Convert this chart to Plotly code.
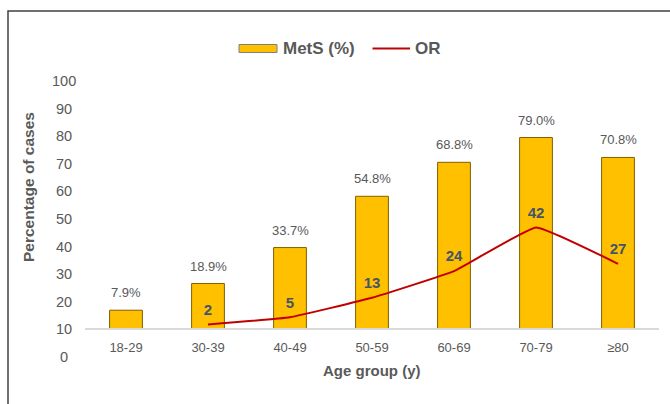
import plotly.graph_objects as go

# Age groups and results
age_groups = ["18-29", "30-39", "40-49", "50-59", "60-69", "70-79", "≥80"]
mets_pct = [7.9, 18.9, 33.7, 54.8, 68.8, 79.0, 70.8]
or_groups = ["30-39", "40-49", "50-59", "60-69", "70-79", "≥80"]
or_values = [2, 5, 13, 24, 42, 27]

# Left-axis tick labels (axis crosses at 10, each step of 10 spans 8.8 data units)
ytick_labels = [0, 10, 20, 30, 40, 50, 60, 70, 80, 90, 100]
AXIS_CROSS = 10
SCALE = 0.88

def to_data(v):
    return (v - AXIS_CROSS) / SCALE

W, H = 670, 404
L, R, T, B = 85, 11, 81, 47
pw, ph = W - L - R, H - T - B

def px_x(x):
    return (x - L) / pw

def px_y(y):
    return 1 - (y - T) / ph

GRAY = "#595959"
FONT = "Liberation Sans, Arial, sans-serif"

fig = go.Figure()

fig.add_trace(go.Bar(
    x=age_groups, y=mets_pct, width=0.4,
    marker=dict(color="#FFC000", line=dict(color="#7F6000", width=1)),
    name="MetS (%)",
))

fig.add_trace(go.Scatter(
    x=or_groups, y=or_values, mode="lines+markers+text",
    line=dict(color="#C00000", width=2, shape="spline", smoothing=0.3),
    marker=dict(size=8, opacity=0),
    text=[f"<b>{v}</b>" for v in or_values], textposition="top center",
    textfont=dict(size=15, color="#44546A", family=FONT),
    cliponaxis=False, name="OR",
))

# Percentage labels above the bars
for cat, v in zip(age_groups, mets_pct):
    fig.add_annotation(x=cat, y=v, xref="x", yref="y", text=f"{v:.1f}%",
                       yanchor="bottom", yshift=8, showarrow=False,
                       font=dict(size=13, color=GRAY))

y_lo, y_hi = to_data(0), to_data(100)

fig.update_layout(
    width=W, height=H,
    margin=dict(l=L, r=R, t=T, b=B),
    paper_bgcolor="white", plot_bgcolor="white",
    showlegend=False,
    font=dict(family=FONT, color=GRAY, size=13),
    xaxis=dict(
        type="category", range=[-0.5, 6.5],
        anchor="free", position=(0 - y_lo) / (y_hi - y_lo),
        showline=True, linecolor="#D9D9D9", linewidth=1.5,
        showgrid=False, ticks="", ticklabelstandoff=6,
        tickfont=dict(size=13, color=GRAY),
    ),
    yaxis=dict(
        range=[y_lo, y_hi], showgrid=False, zeroline=False, showline=False,
        showticklabels=False, ticks="",
    ),
)

# Left-axis labels, centred in a column beside the plot
for v in ytick_labels:
    fig.add_annotation(x=px_x(63.5), y=to_data(v), xref="paper", yref="y",
                       text=str(v), xanchor="center", yanchor="middle",
                       showarrow=False, font=dict(size=14.5, color=GRAY))

# Axis titles
fig.add_annotation(text="<b>Percentage of cases</b>", xref="paper", yref="paper",
                   x=px_x(28), y=px_y(187), textangle=-90, showarrow=False,
                   xanchor="center", yanchor="middle",
                   font=dict(size=15.5, color=GRAY))
fig.add_annotation(text="<b>Age group (y)</b>", xref="paper", yref="paper",
                   x=0.5, y=px_y(370), showarrow=False,
                   xanchor="center", yanchor="middle",
                   font=dict(size=15, color=GRAY))

# Legend
fig.add_shape(type="rect", xref="paper", yref="paper",
              x0=px_x(239), x1=px_x(277), y0=px_y(52.5), y1=px_y(44.5),
              fillcolor="#FFC000", line=dict(color="#7F7F7F", width=1))
fig.add_annotation(text="<b>MetS (%)</b>", xref="paper", yref="paper",
                   x=px_x(281), y=px_y(48.5), xanchor="left", yanchor="middle",
                   showarrow=False, font=dict(size=17, color=GRAY))
fig.add_shape(type="line", xref="paper", yref="paper",
              x0=px_x(372.5), x1=px_x(410), y0=px_y(48.5), y1=px_y(48.5),
              line=dict(color="#C00000", width=2))
fig.add_annotation(text="<b>OR</b>", xref="paper", yref="paper",
                   x=px_x(413), y=px_y(48.5), xanchor="left", yanchor="middle",
                   showarrow=False, font=dict(size=17, color=GRAY))

# Chart frame
fig.add_shape(type="rect", xref="paper", yref="paper",
              x0=px_x(8), x1=px_x(700), y0=px_y(440), y1=px_y(11),
              line=dict(color="#404040", width=1.5), fillcolor="rgba(0,0,0,0)")

fig.write_html("out.html")
